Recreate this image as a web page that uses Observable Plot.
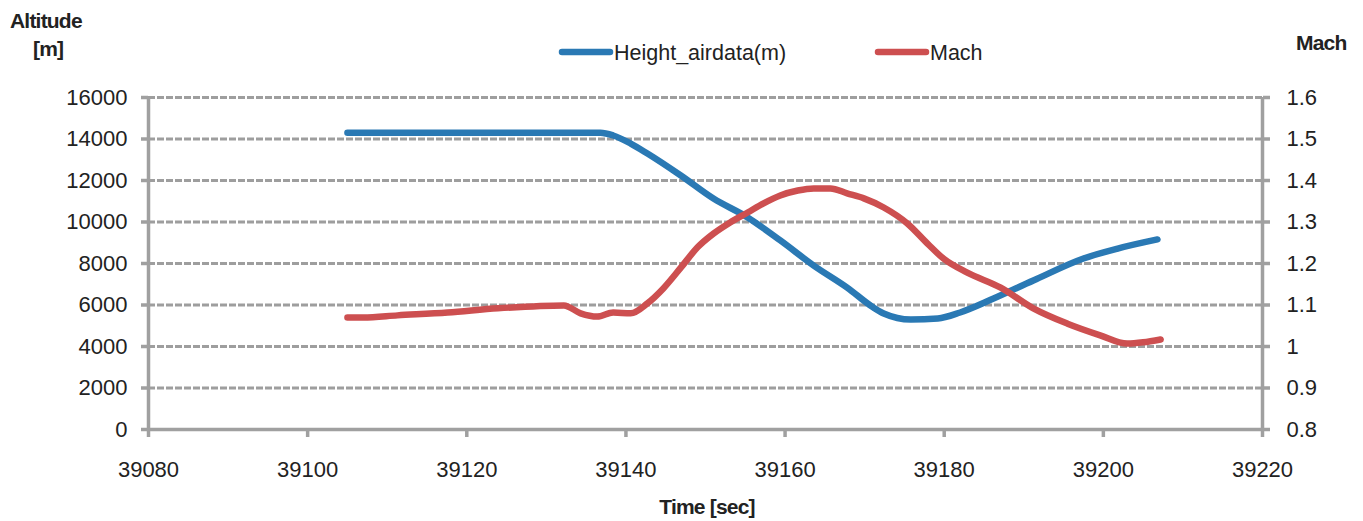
<!DOCTYPE html>
<html>
<head>
<meta charset="utf-8">
<script src="https://cdn.jsdelivr.net/npm/d3@7"></script>
<script src="https://cdn.jsdelivr.net/npm/@observablehq/plot@0.6"></script>
<style>
  html, body { margin: 0; padding: 0; background: #fff; }
  #chart svg { display: block; }
</style>
</head>
<body>
<div id="chart"></div>
<script>
// Flight record: barometric altitude and Mach number against time
const heightTime = [39105, 39136.8, 39138.4, 39140.6, 39142.7, 39146.9, 39151.0, 39155.3, 39159.4, 39163.6, 39167.8, 39171.1, 39172.4, 39175.8, 39179.2, 39182.0, 39186.2, 39191.2, 39197.5, 39201.8, 39206.8];
const heightValues = [14300, 14300, 14170, 13780, 13300, 12240, 11130, 10220, 9110, 7900, 6840, 5880, 5590, 5300, 5350, 5640, 6310, 7180, 8240, 8720, 9160];

const machTime = [39105.0, 39107.0, 39111.3, 39117.6, 39123.9, 39132.2, 39134.3, 39136.4, 39138.4, 39140.6, 39142.7, 39144.7, 39146.9, 39149.0, 39151.0, 39153.1, 39155.3, 39157.3, 39159.4, 39161.6, 39163.6, 39165.7, 39167.8, 39169.9, 39172.4, 39175.4, 39177.9, 39179.9, 39182.9, 39187.1, 39191.2, 39195.5, 39199.6, 39203.0, 39205.0, 39207.2];
const machValues = [1.070, 1.070, 1.075, 1.082, 1.092, 1.099, 1.080, 1.072, 1.082, 1.080, 1.104, 1.140, 1.190, 1.239, 1.272, 1.299, 1.323, 1.345, 1.364, 1.376, 1.381, 1.381, 1.369, 1.357, 1.335, 1.296, 1.248, 1.212, 1.178, 1.142, 1.092, 1.055, 1.027, 1.007, 1.010, 1.017];

const timeTicks = [39080, 39100, 39120, 39140, 39160, 39180, 39200, 39220];
const altTicks = [0, 2000, 4000, 6000, 8000, 10000, 12000, 14000, 16000];
const machTicks = [0.8, 0.9, 1.0, 1.1, 1.2, 1.3, 1.4, 1.5, 1.6];

const blue = "#2a79b4";
const red = "#cd4f50";
const axisGray = "#a0a0a0";
const gridGray = "#9e9e9e";
const textColor = "#222";

// Secondary axis: Mach 0.8..1.6 shares the altitude range 0..16000
const machToAlt = m => (m - 0.8) * 20000;
const altToMach = a => a / 20000 + 0.8;

const heightRows = heightTime.map((t, i) => ({t, v: heightValues[i]}));
const machRows = machTime.map((t, i) => ({t, v: machToAlt(machValues[i])}));

const svg = Plot.plot({
  width: 1363,
  height: 521,
  marginLeft: 148,
  marginRight: 101,
  marginTop: 97,
  marginBottom: 92,
  style: {fontFamily: "'Liberation Sans', Arial, sans-serif", fontSize: "22px", color: textColor, background: "#fff"},
  x: {domain: [39080, 39220]},
  y: {domain: [0, 16000]},
  marks: [
    Plot.ruleY(altTicks.filter(d => d > 0), {stroke: gridGray, strokeWidth: 3, strokeDasharray: "7,2"}),
    Plot.ruleX([39080, 39220], {stroke: axisGray, strokeWidth: 3.5}),
    Plot.ruleY([0], {stroke: axisGray, strokeWidth: 3.5}),
    Plot.axisY({ticks: altTicks, tickFormat: d => String(d), tickSize: 7, tickPadding: 14,
      stroke: axisGray, strokeWidth: 3.5, fill: textColor, fontSize: 22, label: null}),
    Plot.axisY({anchor: "right", ticks: machTicks.map(machToAlt),
      tickFormat: d => String(+altToMach(d).toFixed(1)), tickSize: 7, tickPadding: 17,
      stroke: axisGray, strokeWidth: 3.5, fill: textColor, fontSize: 22, label: null}),
    Plot.axisX({ticks: timeTicks, tickFormat: d => String(d), tickSize: 8, tickPadding: 24,
      stroke: axisGray, strokeWidth: 3.5, fill: textColor, fontSize: 22, label: null}),
    Plot.line(heightRows, {x: "t", y: "v", stroke: blue, strokeWidth: 6.5,
      strokeLinecap: "round", strokeLinejoin: "round", curve: "monotone-x"}),
    Plot.line(machRows, {x: "t", y: "v", stroke: red, strokeWidth: 6.5,
      strokeLinecap: "round", strokeLinejoin: "round", curve: "monotone-x"})
  ]
});

document.getElementById("chart").appendChild(svg);

// Axis titles and legend
const s = d3.select(svg);
const bold = {"font-weight": "bold", "font-size": "21px", "letter-spacing": "-0.8px", fill: textColor, "text-anchor": "start"};
function addText(x, y, str, attrs) {
  const t = s.append("text").attr("x", x).attr("y", y).text(str);
  for (const k in attrs) t.attr(k, attrs[k]);
  return t;
}
addText(10, 28, "Altitude", bold);
addText(33, 56, "[m]", bold);
addText(1296, 50, "Mach", bold);
addText(707, 514, "Time [sec]", {...bold, "text-anchor": "middle"});

const legend = s.append("g").attr("font-size", "21.5px").attr("fill", textColor).attr("text-anchor", "start");
[
  {label: "Height_airdata(m)", color: blue, x: 562},
  {label: "Mach", color: red, x: 878}
].forEach(item => {
  legend.append("line").attr("x1", item.x).attr("x2", item.x + 48)
    .attr("y1", 52).attr("y2", 52)
    .attr("stroke", item.color).attr("stroke-width", 6.5).attr("stroke-linecap", "round");
  legend.append("text").attr("x", item.x + 52).attr("y", 59.5).text(item.label);
});
</script>
</body>
</html>
